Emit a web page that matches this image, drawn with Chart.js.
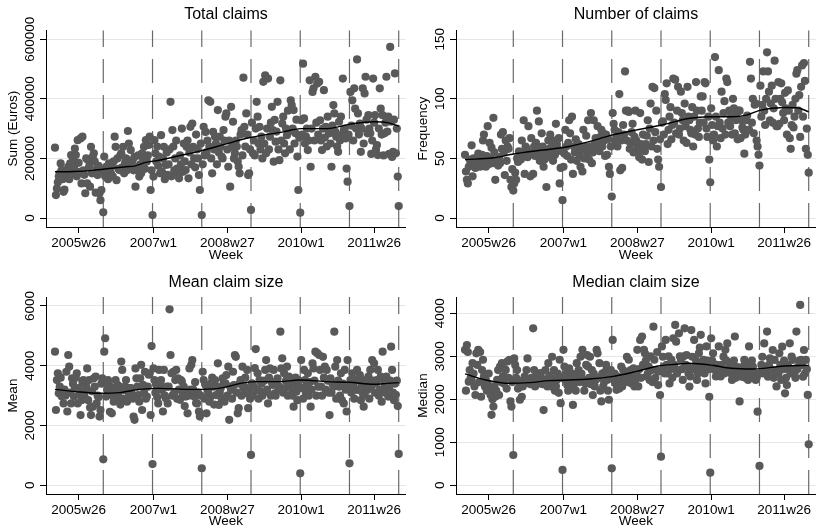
<!DOCTYPE html>
<html><head><meta charset="utf-8">
<script src="https://cdn.jsdelivr.net/npm/chart.js@4.4.0/dist/chart.umd.min.js"></script>
<style>
html,body{margin:0;padding:0;background:#fff;overflow:hidden;width:818px;height:529px}
.p{position:absolute;width:410px}
#w1{left:0;top:0;height:264px}
#w2{left:410px;top:0;height:264px}
#w3{left:0;top:264px;height:265px}
#w4{left:410px;top:264px;height:265px}
</style></head><body>
<div class="p" id="w1"><canvas id="c1"></canvas></div>
<div class="p" id="w2"><canvas id="c2"></canvas></div>
<div class="p" id="w3"><canvas id="c3"></canvas></div>
<div class="p" id="w4"><canvas id="c4"></canvas></div>
<script>
// ---- x axis (week index, 0 = 2005w1) ----
const xTickVals = [25, 104, 182, 260, 337];
const xTickLabels = ['2005w26', '2007w1', '2008w27', '2010w1', '2011w26'];
const yearBreaks = [51, 103, 155, 207, 259, 311, 363];

// ---- Total claims (thousands of euros), weeks 0..363 ----
const totalClaimsK = [
236,77,99,120,139,150,183,161,130,88,
95,145,139,160,172,130,183,211,150,194,
170,233,211,140,261,185,155,267,116,273,
160,145,83,200,116,194,172,105,239,150,
206,217,189,85,165,144,175,83,60,94,
160,19,206,140,172,155,130,183,165,150,
175,140,190,273,239,127,200,165,161,210,
217,170,239,150,185,200,160,292,250,175,
228,180,194,160,205,105,170,161,210,139,
180,150,217,200,239,165,261,190,210,245,
273,94,160,10,139,261,217,190,240,175,
206,150,278,155,200,239,130,178,220,145,
180,230,390,140,295,240,160,200,260,166,
150,133,210,180,300,155,250,190,161,239,
260,133,220,306,180,317,239,200,170,280,
230,200,144,94,250,10,180,306,210,289,
220,260,395,240,390,200,150,289,230,273,
250,180,362,220,273,240,206,200,295,260,
340,351,230,172,260,105,373,239,323,200,
217,260,240,190,172,150,280,295,210,471,
306,240,351,280,144,150,230,27,320,217,
260,210,300,390,340,250,306,230,273,200,
457,250,479,217,300,468,230,273,320,373,
295,189,329,256,290,390,230,194,462,260,
317,340,250,217,300,278,360,290,230,395,
379,300,362,250,284,330,206,94,270,18,
328,280,518,334,250,273,300,228,260,462,
172,300,423,435,260,474,320,451,280,457,
328,260,228,300,429,270,306,240,340,290,
284,250,172,310,379,351,290,273,240,222,
323,260,340,280,468,295,300,267,166,122,
280,40,423,310,395,260,435,367,300,532,
351,280,317,222,300,435,250,418,474,330,
284,345,300,284,215,260,468,320,345,230,
245,211,300,435,367,280,345,210,284,320,
474,290,340,215,574,323,205,222,330,485,
217,300,139,40];

// ---- Number of claims ----
const numClaims = [
53,39,32,29,43,49,46,61,35,50,
46,42,49,45,54,50,43,47,53,65,
70,48,43,52,77,45,63,50,59,46,
84,55,32,48,49,44,51,46,70,58,
72,55,36,65,48,60,58,67,32,26,
41,23,29,38,32,50,47,56,52,49,
65,54,82,37,60,58,51,77,53,35,
67,55,37,60,52,63,90,58,81,48,
54,71,60,43,49,57,26,51,65,58,
70,55,60,48,65,53,79,62,58,67,
29,42,56,15,43,54,74,60,52,63,
82,71,49,85,37,60,55,66,48,58,
62,52,43,57,39,74,50,60,69,55,
82,49,60,88,46,55,82,62,67,58,
77,63,56,68,74,60,71,65,52,70,
53,66,43,37,60,18,88,79,74,65,
68,60,72,104,40,65,42,78,70,123,
90,65,90,89,58,63,72,79,55,68,
90,65,60,56,51,88,62,49,70,58,
56,62,69,82,47,75,96,60,110,65,
109,72,90,58,49,43,66,26,80,81,
70,104,99,113,62,74,85,93,66,78,
117,80,116,71,90,110,70,75,106,88,
82,65,96,77,63,110,85,82,74,71,
93,60,85,70,114,90,75,68,80,102,
90,102,80,114,113,75,68,85,49,30,
92,78,65,70,135,85,60,77,124,80,
67,106,75,88,98,70,117,114,80,90,
77,85,70,100,92,71,82,88,66,90,
90,67,82,76,74,54,70,82,86,74,
74,131,117,80,100,71,95,96,65,60,
53,44,111,85,95,123,90,78,100,139,
123,106,82,96,111,80,92,132,100,77,
77,114,79,100,113,97,88,82,105,92,
70,107,90,67,58,78,95,76,85,100,
121,124,90,103,68,110,128,85,130,115,
58,75,53,38];

// ---- Mean claim size ----
const meanClaim = [
4470,2520,3520,3750,3080,3300,3600,2980,3150,2740,
3200,3000,3800,2470,4360,3970,3100,2740,3580,3400,
2970,3250,3600,3750,2740,3250,3050,2350,2850,3450,
3520,3100,2910,3300,3910,2850,3520,2600,2350,3150,
2630,3580,3300,3640,2740,3000,2950,2300,2520,3400,
3580,870,4470,4920,2970,3200,3520,3360,2460,3150,
2410,3000,2800,3250,3520,2900,3360,3100,3300,2700,
4140,3860,2900,3190,3300,3520,2800,3250,3000,3250,
3250,3080,2900,2300,2190,3910,3580,3300,3020,2800,
3580,4030,2520,3360,3100,3800,2900,2970,3300,3700,
3750,2350,4660,710,3910,3520,3100,3360,2950,2740,
3860,3410,3520,3190,2470,3860,3000,2910,3300,2740,
3300,5890,4360,3750,3000,3800,3100,3520,3860,2900,
3580,3200,2860,3520,3470,3000,3300,2650,2970,3150,
2410,3000,3910,3200,4030,4190,3200,2970,3450,2750,
2740,3100,2470,2300,3000,570,3800,3520,2900,3360,
2410,3200,3080,2800,2950,3410,3600,3300,2700,3520,
3020,3300,4080,2690,3100,3250,2900,3580,3400,2800,
3410,3690,3000,3970,2190,3300,3190,2900,3800,3350,
4360,4300,3100,2410,2580,3400,3520,3000,3970,3250,
3300,3600,3080,3860,2580,3200,2900,1015,3410,3000,
3300,3920,4560,3190,3750,2900,3520,3140,3400,3000,
3080,3500,3860,4190,3200,2740,3600,3910,3000,3450,
3360,3860,3080,3000,3470,3580,3190,3300,5140,3910,
4250,3100,3750,3250,3500,3970,3000,3640,3400,3250,
3410,3000,2630,3300,3600,3130,2850,3520,3300,400,
4190,3250,2900,3860,3520,3100,3360,3750,3000,3450,
2630,3200,4080,3910,3500,4470,3000,4420,3300,4360,
3860,3300,3000,4300,3600,3970,3200,3860,3500,3100,
2350,3580,3100,3410,3300,5140,3970,2900,4190,3500,
3300,3000,3750,2850,3400,2740,3860,3200,2470,4190,
3300,736,3520,3100,3750,3360,2900,3520,3200,3860,
3190,3500,3690,2850,3300,3080,2630,3000,3520,3400,
3190,3640,2900,3860,3300,4190,3500,4080,3100,3400,
3520,3860,3000,3190,3640,2800,4470,3520,3300,3100,
3640,3300,2970,3300,3500,4640,3860,3100,2850,3400,
3030,3500,2650,1050];

// ---- Median claim size ----
const medianClaim = [
3150,2200,3260,3100,2410,2680,2500,2450,2840,2600,
2300,2100,3070,2800,3150,2400,3100,2060,2680,2920,
2530,2300,2450,2200,2370,2600,2220,2100,1640,2000,
1830,2300,2060,2200,2450,2680,2100,2760,2400,2840,
2530,2370,2700,2680,2250,2880,2500,2920,1950,1830,
2400,705,2950,2800,2500,2680,2250,2400,1990,2300,
2060,2300,2450,2530,2380,2680,2950,2400,2450,2350,
2500,2400,3650,2680,2300,2530,2450,2600,2370,2420,
2610,2490,2350,1750,2400,2680,2450,2300,2840,2550,
2530,2300,2990,2450,2680,2200,2300,2450,2600,2150,
2920,1910,2500,357,3150,2760,2450,2600,2330,2200,
2720,2450,2300,2600,1870,2350,2530,2200,2840,2500,
2680,2400,2990,2600,3150,2450,2200,2370,2800,3030,
2760,2500,2990,2350,2680,2100,2600,2300,2450,3150,
3070,2500,2840,2200,1950,2600,2300,2400,2640,2800,
2450,2200,1990,2500,2680,395,3380,2450,2600,2370,
2220,2527,2400,2250,2500,2760,2300,2680,2550,2450,
2600,2990,2400,2920,2550,2680,2370,2500,2720,2300,
2450,2600,3150,2300,2700,3380,2500,3460,2800,3150,
3070,2900,2530,2600,2760,2450,3000,2680,2400,3690,
2920,2500,2680,3100,2330,2650,2100,667,3230,2990,
2760,2600,3380,2800,2605,3000,2370,2700,2920,2500,
3420,2800,3730,3340,2600,2680,3535,3000,2920,2700,
2450,3000,3651,2800,3030,2760,2600,2295,2530,3610,
2990,2700,3380,2760,2900,2450,2600,3070,3200,3500,
2680,2800,2920,2600,2370,3230,2900,2700,2060,295,
3420,2900,3070,2700,2680,2530,2800,2760,3230,2600,
2530,2800,2680,2992,2600,3150,2900,3300,2700,2840,
2680,2600,2450,2840,2900,3460,2500,2680,2750,2600,
1950,2700,2527,2600,2760,2915,2500,2680,2800,2450,
3230,2700,2605,2900,2760,2527,2600,2450,2500,1713,
2600,450,2605,2800,2990,2600,3300,2700,2680,3574,
2527,2800,2954,2700,2682,3147,2500,2915,2600,2300,
2682,2600,3070,2800,2450,3225,2700,2900,2140,2500,
2333,2800,2682,3302,2600,2992,2915,2700,2605,2500,
3574,2700,2760,2900,4194,2915,2800,2527,3147,2600,
2915,2700,2101,953];

// ---- lowess curves ----
const smoothTotalWeeks = [0,20,40,60,75,85,95,110,130,155,180,206,241,260,288,312,337,351,363];
const smoothTotalK     = [155,156,160,167,172,175,186,194,208,226,248,270,289,300,300,315,323,320,308];
const smoothNumWeeks = [0,30,50,82,110,131,155,180,208,236,259,281,297,312,337,351,363];
const smoothNum      = [49,50.5,53.5,57,60,64,69.5,73.7,78,83.5,85,85,86.3,90.5,92.7,92.5,89];
const smoothMeanWeeks = [0,22,47,68,89,110,145,173,200,214,236,259,288,311,337,351,363];
const smoothMean      = [3210,3135,3080,3100,3210,3245,3210,3245,3435,3468,3468,3524,3468,3446,3380,3410,3435];
const smoothMedWeeks = [0,22,47,68,89,110,131,155,180,204,222,236,259,281,305,337,363];
const smoothMed      = [2590,2450,2372,2388,2434,2450,2473,2527,2643,2775,2814,2837,2798,2721,2705,2775,2790];

// ---- y tick labels ----
const yTicksTotal = [0, 200000, 400000, 600000];
const yTicksNum = [0, 50, 100, 150];
const yTicksMean = [0, 2000, 4000, 6000];
const yTicksMed = [0, 1000, 2000, 3000, 4000];

const FONT = '"Liberation Sans", Arial, Helvetica, sans-serif';
Chart.defaults.font.family = FONT;
Chart.defaults.color = '#000';

const yLabelPlugin = {
  id: 'ylabels',
  afterDraw(chart) {
    const s = chart.scales.y, ctx = chart.ctx;
    ctx.save();
    ctx.fillStyle = '#000';
    ctx.font = '13.5px ' + FONT;
    ctx.textAlign = 'center';
    ctx.textBaseline = 'middle';
    s.ticks.forEach(t => {
      const y = s.getPixelForValue(t.value);
      ctx.save();
      ctx.translate(s.right - 16, y);
      ctx.rotate(-Math.PI / 2);
      ctx.fillText(String(t.value), 0, 0);
      ctx.restore();
    });
    ctx.restore();
  }
};

function makePanel(id, title, yTitle, values, factor, sW, sV, yTicks, ymin, ymax, top) {
  const pts = values.map((v, i) => ({x: i, y: v * factor}));
  const smooth = sW.map((w, k) => ({x: w, y: sV[k] * factor}));
  const datasets = [];
  yearBreaks.forEach(b => datasets.push({
    type: 'line', data: [{x: b, y: ymin}, {x: b, y: ymax}],
    borderColor: '#6a6a6a', borderWidth: 1.2, borderDash: [24, 12],
    pointRadius: 0, order: 3
  }));
  datasets.push({type: 'scatter', data: pts, backgroundColor: '#595959',
    borderWidth: 0, pointRadius: 4.1, order: 2});
  datasets.push({type: 'line', data: smooth, borderColor: '#000', borderWidth: 1.4,
    pointRadius: 0, cubicInterpolationMode: 'monotone', order: 1});
  return new Chart(document.getElementById(id), {
    type: 'scatter',
    data: {datasets},
    plugins: [yLabelPlugin],
    options: {
      responsive: true, maintainAspectRatio: false, animation: false,
      devicePixelRatio: 1,
      layout: {padding: {left: 0, right: 1, top: 0, bottom: 0}},
      plugins: {
        legend: {display: false}, tooltip: {enabled: false},
        title: {display: true, text: title, fullSize: false, color: '#000',
          font: {size: 16, weight: 'normal'},
          padding: top ? {top: 5, bottom: 6} : {top: 9.4, bottom: 4.4}}
      },
      scales: {
        x: {
          type: 'linear', min: -9.5, max: 370.6,
          afterBuildTicks: s => { s.ticks = xTickVals.map(v => ({value: v})); },
          afterFit: s => { s.height = top ? 37 : 35; },
          ticks: {callback: v => xTickLabels[xTickVals.indexOf(v)], font: {size: 13.5},
            color: '#000', padding: 2, maxRotation: 0, autoSkip: false},
          grid: {display: true, drawOnChartArea: false, drawTicks: true, tickLength: 6,
            tickColor: '#000', color: '#000'},
          border: {display: true, color: '#000', width: 1},
          title: {display: true, text: 'Week', font: {size: 13.5}, color: '#000',
            padding: {top: 0, bottom: top ? 1 : 0}}
        },
        y: {
          type: 'linear', min: ymin, max: ymax,
          afterBuildTicks: s => { s.ticks = yTicks.map(v => ({value: v})); },
          afterFit: s => { s.width = 46; },
          ticks: {display: false},
          grid: {display: true, drawOnChartArea: true, drawTicks: true, tickLength: 6,
            color: '#e6e6e6', tickColor: '#000', lineWidth: 1},
          border: {display: true, color: '#000', width: 1},
          title: {display: true, text: yTitle, font: {size: 13.5}, color: '#000',
            padding: {top: 5, bottom: 0}}
        }
      }
    }
  });
}

makePanel('c1', 'Total claims', 'Sum (Euros)', totalClaimsK, 1000, smoothTotalWeeks, smoothTotalK,
  yTicksTotal, -30168, 630168, true);
makePanel('c2', 'Number of claims', 'Frequency', numClaims, 1, smoothNumWeeks, smoothNum,
  yTicksNum, -7.54, 157.54, true);
makePanel('c3', 'Mean claim size', 'Mean', meanClaim, 1, smoothMeanWeeks, smoothMean,
  yTicksMean, -291, 6301, false);
makePanel('c4', 'Median claim size', 'Median', medianClaim, 1, smoothMedWeeks, smoothMed,
  yTicksMed, -202, 4379, false);
</script>
</body></html>
